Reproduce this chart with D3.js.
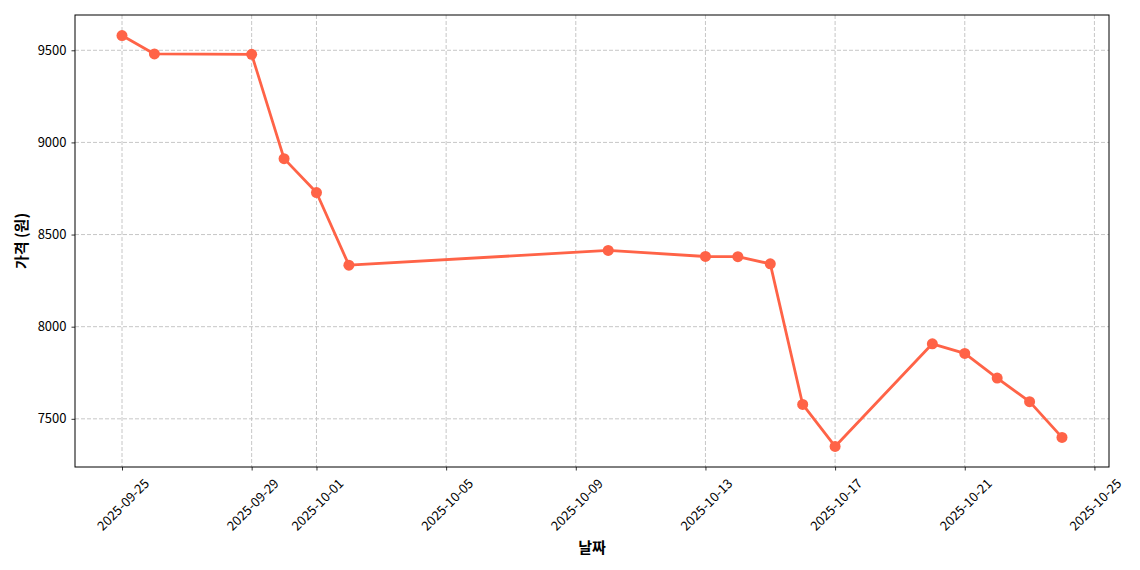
<!DOCTYPE html>
<html>
<head>
<meta charset="utf-8">
<script src="https://cdn.jsdelivr.net/npm/d3@7"></script>
<style>
  body { margin: 0; background: #fff; }
  svg text { font-family: "Noto Sans CJK KR", "Noto Sans", sans-serif; fill: #000; }
</style>
</head>
<body>
<div id="chart"></div>
<script>
// price history (원)
var dates = ["2025-09-25", "2025-09-26", "2025-09-29", "2025-09-30", "2025-10-01", "2025-10-02",
    "2025-10-10", "2025-10-13", "2025-10-14", "2025-10-15", "2025-10-16", "2025-10-17",
    "2025-10-20", "2025-10-21", "2025-10-22", "2025-10-23", "2025-10-24"];
var prices = [9580, 9480, 9478, 8912, 8728, 8334, 8414, 8381, 8380, 8341, 7578, 7350,
    7907, 7855, 7721, 7593, 7399];
var xTickLabels = ["2025-09-25", "2025-09-29", "2025-10-01", "2025-10-05", "2025-10-09",
    "2025-10-13", "2025-10-17", "2025-10-21", "2025-10-25"];
var yTicks = [7500, 8000, 8500, 9000, 9500];

var width = 1140, height = 570;
var plotLeft = 75, plotRight = 1109, plotTop = 15, plotBottom = 467;

var parse = d3.timeParse("%Y-%m-%d");
var data = dates.map((d, i) => ({ date: parse(d), price: prices[i] }));

var svg = d3.select("#chart").append("svg")
    .attr("width", width)
    .attr("height", height);

/* matplotlib style 5% margins */
var xExt = d3.extent(data, d => d.date);
var xPad = (xExt[1] - xExt[0]) * 0.05;
var x = d3.scaleTime()
    .domain([new Date(+xExt[0] - xPad), new Date(+xExt[1] + xPad)])
    .range([plotLeft, plotRight]);

var yExt = d3.extent(prices);
var yPad = (yExt[1] - yExt[0]) * 0.05;
var y = d3.scaleLinear()
    .domain([yExt[0] - yPad, yExt[1] + yPad])
    .range([plotBottom, plotTop]);

var xTicks = xTickLabels.map(parse);

/* grid */
var grid = svg.append("g").attr("stroke", "#b0b0b0").attr("stroke-width", 1)
    .attr("stroke-dasharray", "4,2").attr("opacity", 0.7);
grid.selectAll(".gx").data(xTicks).enter().append("line")
    .attr("x1", d => x(d)).attr("x2", d => x(d))
    .attr("y1", plotTop).attr("y2", plotBottom);
grid.selectAll(".gy").data(yTicks).enter().append("line")
    .attr("x1", plotLeft).attr("x2", plotRight)
    .attr("y1", d => y(d)).attr("y2", d => y(d));

/* axes */
var xAxis = svg.append("g")
    .attr("transform", "translate(0," + plotBottom + ")")
    .call(d3.axisBottom(x).tickValues(xTicks).tickSize(3.5).tickFormat(d3.timeFormat("%Y-%m-%d")));
xAxis.select(".domain").remove();
xAxis.selectAll(".tick line").attr("stroke", "#000").attr("stroke-width", 0.8);
xAxis.selectAll(".tick text")
    .attr("font-size", "13px")
    .attr("text-anchor", "middle")
    .attr("dy", null)
    .attr("y", 0)
    .attr("dominant-baseline", "central")
    .attr("transform", "translate(0,37) rotate(-45)");

var yAxis = svg.append("g")
    .attr("transform", "translate(" + plotLeft + ",0)")
    .call(d3.axisLeft(y).tickValues(yTicks).tickSize(3.5).tickPadding(5).tickFormat(d3.format("d")));
yAxis.select(".domain").remove();
yAxis.selectAll(".tick line").attr("stroke", "#000").attr("stroke-width", 0.8);
yAxis.selectAll(".tick text").attr("font-size", "13px");

/* frame */
svg.append("rect")
    .attr("x", plotLeft).attr("y", plotTop)
    .attr("width", plotRight - plotLeft).attr("height", plotBottom - plotTop)
    .attr("fill", "none").attr("stroke", "#000").attr("stroke-width", 1);

/* line + markers */
var line = d3.line().x(d => x(d.date)).y(d => y(d.price));
svg.append("path")
    .datum(data)
    .attr("d", line)
    .attr("fill", "none")
    .attr("stroke", "#ff6347")
    .attr("stroke-width", 2.8)
    .attr("stroke-linejoin", "round");

svg.selectAll(".pt").data(data).enter().append("circle")
    .attr("cx", d => x(d.date))
    .attr("cy", d => y(d.price))
    .attr("r", 5.5)
    .attr("fill", "#ff6347");

/* labels */
svg.append("text")
    .attr("x", (plotLeft + plotRight) / 2).attr("y", 546)
    .attr("text-anchor", "middle")
    .attr("dominant-baseline", "central")
    .attr("font-size", "15px").attr("font-weight", "bold")
    .text("날짜");

svg.append("text")
    .attr("transform", "translate(20," + ((plotTop + plotBottom) / 2) + ") rotate(-90)")
    .attr("text-anchor", "middle")
    .attr("dominant-baseline", "central")
    .attr("font-size", "15px").attr("font-weight", "bold")
    .text("가격 (원)");
</script>
</body>
</html>
